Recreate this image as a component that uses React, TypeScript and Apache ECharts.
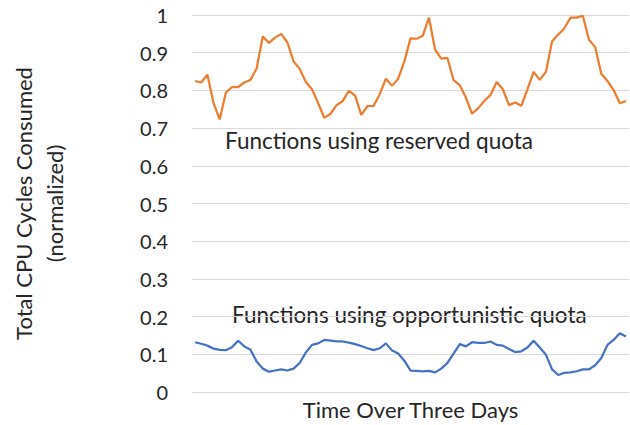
import React, { useEffect, useRef } from "react";
import * as echarts from "echarts";

const reservedQuota = [
  0.825, 0.821, 0.842, 0.766, 0.723, 0.794, 0.809, 0.809, 0.821, 0.828,
  0.858, 0.943, 0.926, 0.94, 0.95, 0.927, 0.877, 0.857, 0.822, 0.803,
  0.766, 0.727, 0.738, 0.761, 0.772, 0.799, 0.786, 0.735, 0.758, 0.759,
  0.79, 0.831, 0.812, 0.831, 0.877, 0.938, 0.937, 0.945, 0.993, 0.908,
  0.884, 0.886, 0.827, 0.814, 0.781, 0.738, 0.753, 0.772, 0.788, 0.822,
  0.803, 0.761, 0.768, 0.759, 0.803, 0.849, 0.828, 0.849, 0.93, 0.948,
  0.965, 0.993, 0.993, 0.998, 0.934, 0.915, 0.844, 0.825, 0.801, 0.766,
  0.772,
];

const opportunisticQuota = [
  0.132, 0.128, 0.123, 0.115, 0.112, 0.111, 0.119, 0.136, 0.121, 0.112,
  0.081, 0.062, 0.054, 0.057, 0.06, 0.057, 0.062, 0.077, 0.105, 0.125,
  0.129, 0.138, 0.136, 0.134, 0.134, 0.131, 0.127, 0.122, 0.116, 0.111,
  0.116, 0.129, 0.11, 0.102, 0.083, 0.057, 0.056, 0.055, 0.056, 0.052,
  0.062, 0.077, 0.102, 0.127, 0.121, 0.132, 0.13, 0.13, 0.134, 0.125,
  0.123, 0.114, 0.106, 0.108, 0.118, 0.136, 0.118, 0.099, 0.06, 0.045,
  0.051, 0.052, 0.055, 0.06, 0.06, 0.071, 0.09, 0.125, 0.138, 0.156,
  0.147,
];

const timeCategories = reservedQuota.map((_, i) => `${i + 1}`);

const yAxisTitle = "Total CPU Cycles Consumed\n(normalized)";
const xAxisTitle = "Time Over Three Days";
const reservedLabel = "Functions using reserved quota";
const opportunisticLabel = "Functions using opportunistic quota";

const FONT = "Lato, 'Open Sans', sans-serif";
const TEXT = "#262626";

export default function App() {
  const ref = useRef<HTMLDivElement>(null);

  useEffect(() => {
    if (!ref.current) return;
    const chart = echarts.init(ref.current, undefined, { renderer: "svg" });
    chart.setOption({
      animation: false,
      backgroundColor: "#ffffff",
      textStyle: { fontFamily: FONT },
      grid: { left: 180, right: 1, top: 15, bottom: 29, containLabel: false },
      xAxis: {
        type: "category",
        data: timeCategories,
        boundaryGap: true,
        axisLine: { show: false },
        axisTick: { show: false },
        axisLabel: { show: false },
        splitLine: { show: false },
        name: xAxisTitle,
        nameLocation: "middle",
        nameGap: 6,
        nameTextStyle: { fontFamily: FONT, fontSize: 22, color: TEXT, verticalAlign: "top" },
      },
      yAxis: {
        type: "value",
        min: 0,
        max: 1,
        interval: 0.1,
        axisLine: { show: false },
        axisTick: { show: false },
        axisLabel: { fontFamily: FONT, fontSize: 20, color: TEXT, margin: 24 },
        splitLine: { show: true, lineStyle: { color: "#d9d9d9", width: 1 } },
        name: yAxisTitle,
        nameLocation: "middle",
        nameRotate: 90,
        nameGap: 122,
        nameTextStyle: { fontFamily: FONT, fontSize: 22, color: TEXT, lineHeight: 31 },
      },
      series: [
        {
          name: "reserved",
          type: "line",
          data: reservedQuota,
          showSymbol: false,
          lineStyle: { color: "#ED7D31", width: 2.25 },
          itemStyle: { color: "#ED7D31" },
        },
        {
          name: "opportunistic",
          type: "line",
          data: opportunisticQuota,
          showSymbol: false,
          lineStyle: { color: "#4472C4", width: 2.25 },
          itemStyle: { color: "#4472C4" },
        },
      ],
      graphic: [
        {
          type: "text",
          left: 225,
          top: 129,
          style: { text: reservedLabel, fontFamily: FONT, fontSize: 22.5, fill: TEXT },
        },
        {
          type: "text",
          left: 232,
          top: 303,
          style: { text: opportunisticLabel, fontFamily: FONT, fontSize: 22.5, fill: TEXT },
        },
      ],
    });
    return () => chart.dispose();
  }, []);

  return (
    <div
      ref={ref}
      style={{ position: "absolute", left: 0, top: 0, width: 630, height: 425 }}
    />
  );
}
